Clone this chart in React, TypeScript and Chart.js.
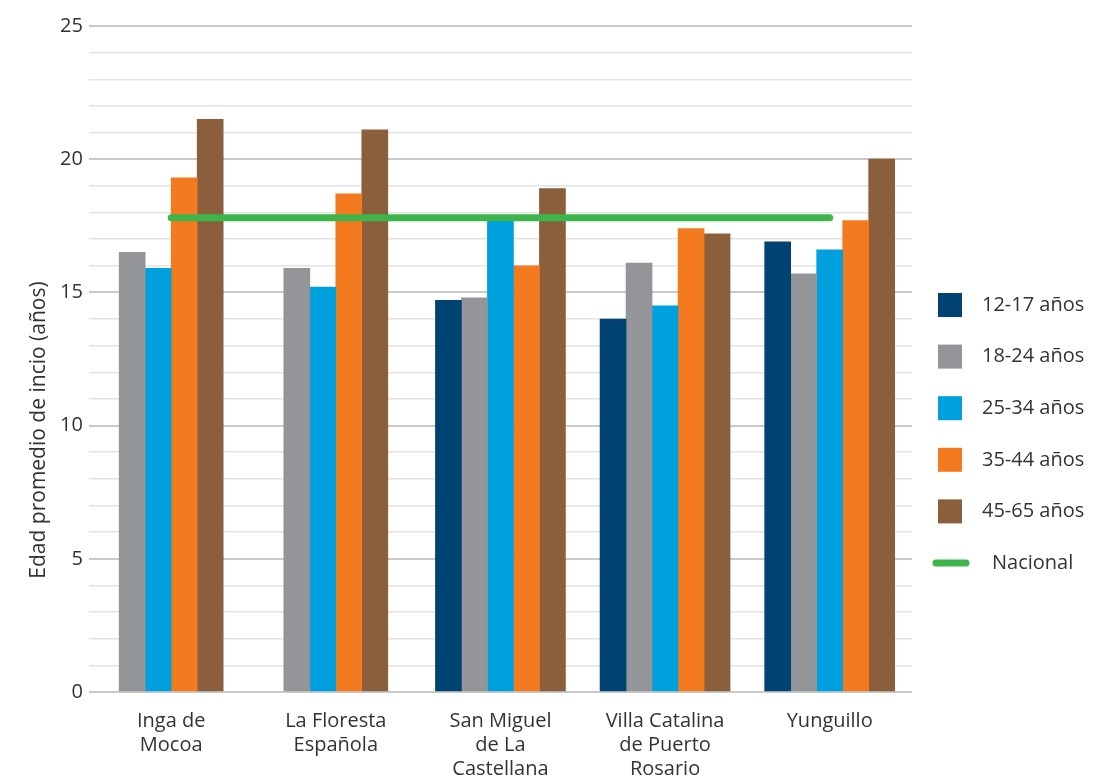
import React, { useEffect, useRef } from "react";
import { Chart, registerables } from "chart.js";

Chart.register(...registerables);

const categories: string[][] = [
  ["Inga de", "Mocoa"],
  ["La Floresta", "Española"],
  ["San Miguel", "de La", "Castellana"],
  ["Villa Catalina", "de Puerto", "Rosario"],
  ["Yunguillo"],
];

const seriesLabels = ["12-17 años", "18-24 años", "25-34 años", "35-44 años", "45-65 años"];
const seriesColors = ["#004373", "#939598", "#009fde", "#f47a20", "#8b5e3c"];

const v1217: (number | null)[] = [null, null, 14.7, 14.0, 16.9];
const v1824: number[] = [16.5, 15.9, 14.8, 16.1, 15.7];
const v2534: number[] = [15.9, 15.2, 17.8, 14.5, 16.6];
const v3544: number[] = [19.3, 18.7, 16.0, 17.4, 17.7];
const v4565: number[] = [21.5, 21.1, 18.9, 17.2, 20.0];

const nacionalLabel = "Nacional";
const nacionalValue = 17.8;
const nacionalColor = "#3db54a";

const yTicks = [0, 5, 10, 15, 20, 25];
const yTitle = "Edad promedio de incio (años)";

const FONT = "'Open Sans', Lato, sans-serif";
const TEXT = "#333333";

const legendPlugin = {
  id: "customLegend",
  afterDraw(chart: any) {
    const ctx = chart.ctx;
    const area = chart.chartArea;
    const x0 = area.right + 26;
    const yStart = 305;
    const step = 51.6;
    ctx.save();
    ctx.font = `20px ${FONT}`;
    ctx.fillStyle = TEXT;
    ctx.textBaseline = "middle";
    chart.data.datasets.forEach((ds: any, i: number) => {
      const y = yStart + i * step;
      if (ds.type === "line") {
        ctx.strokeStyle = ds.borderColor;
        ctx.lineWidth = 7;
        ctx.lineCap = "round";
        ctx.beginPath();
        ctx.moveTo(x0 - 2, y);
        ctx.lineTo(x0 + 28, y);
        ctx.stroke();
        ctx.fillStyle = TEXT;
        ctx.fillText(ds.label, x0 + 54, y);
      } else {
        ctx.fillStyle = ds.backgroundColor;
        ctx.fillRect(x0, y - 12, 24, 24);
        ctx.fillStyle = TEXT;
        ctx.fillText(ds.label, x0 + 44, y);
      }
    });
    // y-axis title
    ctx.save();
    ctx.translate(39, 430);
    ctx.rotate(-Math.PI / 2);
    ctx.textAlign = "center";
    ctx.textBaseline = "middle";
    ctx.font = `21px ${FONT}`;
    ctx.fillStyle = TEXT;
    ctx.fillText(yTitle, 0, 0);
    ctx.restore();
    ctx.restore();
  },
};

export default function App() {
  const ref = useRef<HTMLCanvasElement | null>(null);

  useEffect(() => {
    document.body.style.margin = "0";
    if (!ref.current) return;
    const seriesValues = [v1217, v1824, v2534, v3544, v4565];
    const barSets = seriesValues.map((vals, i) => ({
      type: "bar" as const,
      label: seriesLabels[i],
      data: vals,
      backgroundColor: seriesColors[i],
      borderWidth: 0,
      order: 1,
      barThickness: 26,
      skipNull: true,
    }));
    const chart = new Chart(ref.current, {
      type: "bar",
      data: {
        labels: categories,
        datasets: [
          ...barSets,
          {
            type: "line" as const,
            label: nacionalLabel,
            data: categories.map(() => nacionalValue),
            borderColor: nacionalColor,
            backgroundColor: nacionalColor,
            borderWidth: 7,
            borderCapStyle: "round",
            pointRadius: 0,
            fill: false,
            order: 0,
          } as any,
        ],
      },
      options: {
        animation: false,
        responsive: true,
        maintainAspectRatio: false,
        layout: { padding: { top: 26, right: 182, left: 54, bottom: -10 } },
        plugins: {
          legend: { display: false },
          tooltip: { enabled: false },
        },
        scales: {
          x: {
            grid: { display: false },
            border: { display: false },
            ticks: {
              color: TEXT,
              font: { family: FONT, size: 20, lineHeight: 1.2 },
              padding: 9,
              maxRotation: 0,
              autoSkip: false,
            },
          },
          y: {
            min: 0,
            max: 25,
            border: { display: false },
            grid: {
              drawTicks: false,
              color: (c: any) => (yTicks.includes(c.tick?.value) ? "#c9c9c9" : "#e3e3e3"),
              lineWidth: (c: any) => (yTicks.includes(c.tick?.value) ? 2 : 1.5),
            },
            ticks: {
              stepSize: 1,
              autoSkip: false,
              color: TEXT,
              padding: 6,
              font: { family: FONT, size: 20 },
              callback: (v: any) => (yTicks.includes(Number(v)) ? String(v) : ""),
            },
          },
        },
      },
      plugins: [legendPlugin],
    });
    return () => chart.destroy();
  }, []);

  return (
    <div style={{ width: 1094, height: 780, position: "relative" }}>
      <canvas ref={ref} />
    </div>
  );
}
